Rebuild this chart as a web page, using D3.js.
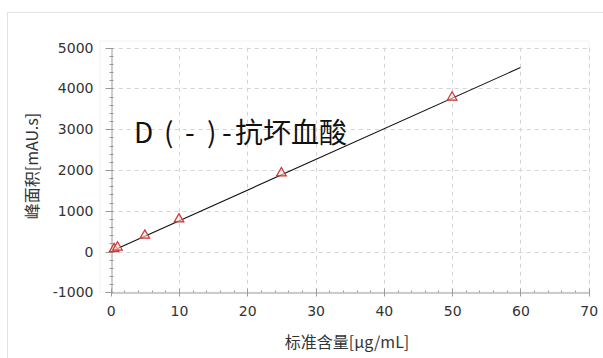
<!DOCTYPE html>
<html>
<head>
<meta charset="utf-8">
<script src="https://cdn.jsdelivr.net/npm/d3@7/dist/d3.min.js"></script>
<style>
  html, body { margin: 0; padding: 0; background: #fff; }
  svg { display: block; }
</style>
</head>
<body>
<script>
// Calibration standards: concentration (µg/mL) and peak area (mAU·s)
const concentrations = [0.5, 1, 5, 10, 25, 50];
const peakAreas = [40, 80, 370, 770, 1900, 3760];
// Fitted calibration line end points
const fitX = [0.5, 60];
const fitY = [38, 4512];
const xTicks = [0, 10, 20, 30, 40, 50, 60, 70];
const yTicks = [-1000, 0, 1000, 2000, 3000, 4000, 5000];
// compound name, split into evenly spaced pieces
const titleParts = ["D", "(", "-", ")", "-", "抗坏血酸"];
const titleOffsets = [0, 30, 51, 73, 88, 101];
const xLabel = "标准含量[μg/mL]";
const yLabel = "峰面积[mAU.s]";

const W = 603, H = 358;
const svg = d3.select("body").append("svg").attr("width", W).attr("height", H);

const font = "'DejaVu Sans', sans-serif";
const cjk = "'Noto Sans CJK SC', sans-serif";

// outer panel frame
svg.append("rect").attr("x", 7.5).attr("y", 12.5).attr("width", W).attr("height", H)
  .attr("fill", "none").attr("stroke", "#e2e2e2");

const x = d3.scaleLinear().domain([0, 70]).range([110.7, 588.7]);
const y = d3.scaleLinear().domain([-1000, 5000]).range([292.3, 47.7]);

// faint plot-area outline
svg.append("rect").attr("x", 100).attr("y", 41).attr("width", 489).attr("height", 251)
  .attr("fill", "none").attr("stroke", "#f4f4f4");

// dashed grid
const grid = svg.append("g").attr("stroke", "#d4d4d4").attr("stroke-dasharray", "4,4").attr("stroke-width", 1);
xTicks.filter(d => d > 0).forEach(d => {
  grid.append("line").attr("x1", Math.round(x(d)) + 0.5).attr("x2", Math.round(x(d)) + 0.5)
    .attr("y1", y(5000)).attr("y2", y(-1000));
});
yTicks.filter(d => d > -1000).forEach(d => {
  grid.append("line").attr("y1", Math.round(y(d)) + 0.5).attr("y2", Math.round(y(d)) + 0.5)
    .attr("x1", x(0)).attr("x2", x(70));
});

// axes
const axisColor = "#9a9a9a";
const fmt = d => String(d);
const xAxis = svg.append("g").attr("transform", `translate(0,${Math.round(y(-1000)) + 0.5})`)
  .call(d3.axisBottom(x).tickValues(xTicks).tickSize(0).tickPadding(14).tickFormat(fmt));
const yAxis = svg.append("g").attr("transform", `translate(${Math.round(x(0)) + 0.5},0)`)
  .call(d3.axisLeft(y).tickValues(yTicks).tickSize(0).tickPadding(18).tickFormat(fmt));
[xAxis, yAxis].forEach(a => {
  a.select(".domain").attr("stroke", axisColor);
  a.selectAll("text").attr("fill", "#333").style("font-family", font).style("font-size", "14px");
});

// major and minor tick marks
const ticks = svg.append("g").attr("stroke", axisColor).attr("stroke-width", 1);
const y0 = Math.round(y(-1000)) + 0.5, x0 = Math.round(x(0)) + 0.5;
d3.range(0, 70.01, 2).forEach(v => {
  const major = v % 10 === 0;
  const px = Math.round(x(v)) + 0.5;
  ticks.append("line").attr("x1", px).attr("x2", px)
    .attr("y1", major ? y0 - 4 : y0 - 2).attr("y2", major ? y0 + 4 : y0);
});
d3.range(-1000, 5000.01, 200).forEach(v => {
  const major = v % 1000 === 0;
  const py = Math.round(y(v)) + 0.5;
  ticks.append("line").attr("y1", py).attr("y2", py)
    .attr("x1", major ? x0 - 6 : x0 - 2).attr("x2", major ? x0 + 2 : x0 + 2);
});

// calibration line
svg.append("line")
  .attr("x1", x(fitX[0])).attr("y1", y(fitY[0]))
  .attr("x2", x(fitX[1])).attr("y2", y(fitY[1]))
  .attr("stroke", "#111").attr("stroke-width", 1.1);

// standard points as open triangles
const tri = d3.symbol().type(d3.symbolTriangle).size(40);
svg.append("g").selectAll("path").data(concentrations).join("path")
  .attr("d", tri)
  .attr("transform", (d, i) => `translate(${x(d)},${y(peakAreas[i]) - 1})`)
  .attr("fill", "#fbe3e3").attr("fill-opacity", 0.6)
  .attr("stroke", "#cc3333").attr("stroke-width", 1.2);

// compound name
const titleText = svg.append("text").attr("y", 143)
  .style("font-family", cjk).style("font-size", "28px").attr("fill", "#111");
titleText.selectAll("tspan").data(titleParts).join("tspan")
  .attr("x", (d, i) => 134 + titleOffsets[i])
  .text(d => d);

// axis titles
svg.append("text").attr("x", 347).attr("y", 348).attr("text-anchor", "middle")
  .style("font-family", cjk).style("font-size", "16px").attr("fill", "#333")
  .text(xLabel);
svg.append("text").attr("transform", "translate(38,166) rotate(-90)").attr("text-anchor", "middle")
  .style("font-family", cjk).style("font-size", "16px").attr("fill", "#333")
  .text(yLabel);
</script>
</body>
</html>
